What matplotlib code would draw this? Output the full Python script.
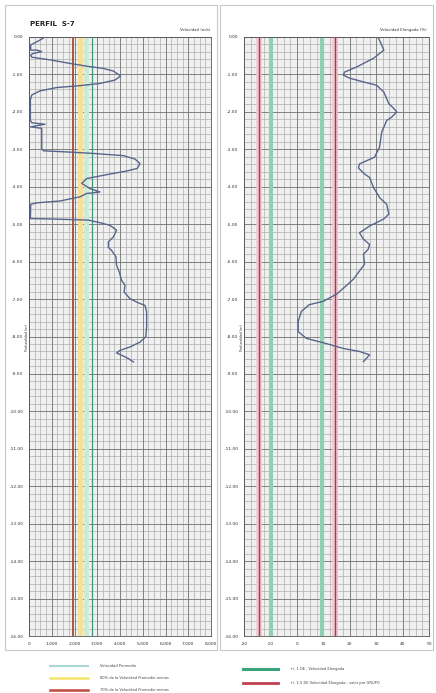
import matplotlib
matplotlib.use("Agg")
import matplotlib.pyplot as plt
from matplotlib.patches import Rectangle
from matplotlib.lines import Line2D
import numpy as np

# ---------------- data ----------------
title = "PERFIL  S-7"
left_xlabel_top = "Velocidad (m/s)"
right_xlabel_top = "Velocidad Elongada (%)"
ylabel = "Profundidad (m)"

vel_depth = [0.03, 0.13, 0.21, 0.35, 0.35, 0.39, 0.44, 0.48, 0.54, 0.61, 0.69, 0.78, 0.84, 0.91,
             1.04, 1.15, 1.24, 1.30, 1.35, 1.44, 1.55, 1.68, 2.22, 2.29, 2.33, 2.37, 2.40, 2.44,
             2.98, 3.04, 3.07, 3.11, 3.17, 3.26, 3.38, 3.51, 3.58, 3.66, 3.78, 3.91, 4.05, 4.14,
             4.18, 4.27, 4.38, 4.43, 4.47, 4.85, 4.86, 4.89, 4.96, 5.03, 5.16, 5.34, 5.47, 5.62,
             5.70, 5.87, 6.10, 6.28, 6.50, 6.63, 6.81, 6.99, 7.10, 7.17, 7.34, 7.75, 8.01, 8.15,
             8.28, 8.37, 8.44, 8.50, 8.59, 8.68]
vel_values = [630, 340, 75, 75, 340, 560, 190, 75, 120, 920, 1660, 2535, 3270, 3710,
              4030, 3780, 3120, 2240, 1220, 480, 120, 60, 60, 120, 700, 340, 75, 560,
              560, 630, 1660, 2830, 4150, 4660, 4880, 4760, 4290, 3560, 2535, 2320, 2680, 3120,
              2535, 2240, 1360, 340, 75, 60, 920, 2610, 3120, 3560, 3850, 3710, 3490, 3490,
              3630, 3820, 3850, 3970, 4070, 4220, 4180, 4440, 4800, 5100, 5170, 5170, 5130, 4880,
              4440, 4000, 3850, 4070, 4370, 4590]

elong_depth = [0.03, 0.20, 0.35, 0.57, 0.80, 0.94, 1.02, 1.10, 1.20, 1.29, 1.47, 1.78, 1.91, 2.00,
               2.14, 2.23, 2.54, 2.94, 3.21, 3.39, 3.50, 3.66, 3.75, 4.02, 4.29, 4.47, 4.73, 4.86,
               5.05, 5.23, 5.40, 5.54, 5.67, 5.80, 6.07, 6.25, 6.47, 6.71, 6.87, 7.06, 7.15, 7.33,
               7.60, 7.87, 8.05, 8.19, 8.32, 8.40, 8.49, 8.67]
elong_values = [30.9, 32.0, 32.9, 29.0, 22.6, 18.0, 17.6, 20.0, 25.2, 30.2, 32.9, 34.8, 36.7, 37.8,
                35.9, 34.0, 32.1, 31.3, 29.4, 23.7, 23.3, 25.6, 27.5, 29.0, 31.3, 34.0, 34.8, 32.9,
                27.5, 23.7, 25.2, 27.5, 27.0, 25.2, 25.6, 23.7, 21.4, 17.6, 15.0, 10.0, 4.7, 1.7,
                0.5, 0.5, 3.6, 11.2, 17.6, 23.7, 27.5, 25.2]

vel_promedio = 2780
vel_band = 2500
vel_80 = 2220
vel_70 = 1950
de_1 = 9.6
de_15 = 14.3

depth_ticks = list(range(0, -17, -1))
vel_ticks = [0, 1000, 2000, 3000, 4000, 5000, 6000, 7000, 8000]
vel_ticklabels = ["0", "1.000", "2.000", "3.000", "4.000", "5.000", "6.000", "7.000", "8.000"]
elong_ticks = [-20, -10, 0, 10, 20, 30, 40, 50]

legend_left = ["Velocidad Promedio",
               "80% de la Velocidad Promedio menos",
               "70% de la Velocidad Promedio menos"]
legend_right = ["+/- 1 DE - Velocidad Elongada",
                "+/- 1.5 DE Velocidad Elongada - valor por GRUPO"]

# ---------------- figure ----------------
W, H = 436, 693
fig = plt.figure(figsize=(W / 100, H / 100), dpi=100)
fig.patch.set_facecolor("white")

def fx(px):
    return px / W

def fy(py):
    return 1 - py / H

# panel frames
for x0, x1 in [(5, 217), (220, 433)]:
    fig.patches.append(Rectangle((fx(x0), fy(650)), fx(x1 - x0), (650 - 5) / H,
                                 transform=fig.transFigure, fill=False,
                                 edgecolor="#c8c8c8", linewidth=0.8))

axL = fig.add_axes([fx(29), fy(636), fx(211 - 29), (636 - 37) / H])
axR = fig.add_axes([fx(244), fy(636), fx(429 - 244), (636 - 37) / H])

curve_color = "#56658a"
tick_fs = 3.2

def style_axes(ax, xmin, xmax, xminor, xticks, xlabels):
    ax.set_xlim(xmin, xmax)
    ax.set_ylim(-16, 0)
    ax.set_facecolor("#f0f0f0")
    for xv in np.arange(xmin, xmax + 1e-9, xminor):
        ax.axvline(xv, color="#a8a8a8", lw=0.45, zorder=1)
    for yv in np.arange(-16, 0.001, 0.2):
        ax.axhline(yv, color="#a8a8a8", lw=0.45, zorder=1)
    for xv in xticks:
        ax.axvline(xv, color="#777777", lw=0.6, zorder=1)
    for yv in depth_ticks:
        ax.axhline(yv, color="#777777", lw=0.6, zorder=1)
    ax.set_xticks(xticks)
    ax.set_xticklabels(xlabels, fontsize=tick_fs, color="#333333")
    ax.set_yticks(depth_ticks)
    ax.set_yticklabels([f"{v:.2f}" for v in depth_ticks], fontsize=tick_fs, color="#333333")
    ax.tick_params(length=0, pad=4)
    for s in ax.spines.values():
        s.set_color("#555555")
        s.set_linewidth(0.6)

style_axes(axL, 0, 8000, 250, vel_ticks, vel_ticklabels)
style_axes(axR, -20, 50, 2.5, elong_ticks, [str(v) for v in elong_ticks])

# reference lines - left
axL.axvline(vel_band, color="#cfe9d8", lw=3.5, zorder=2)
axL.axvline(vel_80, color="#f6df9a", lw=3.5, zorder=2)
axL.axvline(vel_70, color="#a9553e", lw=1.4, zorder=3)
axL.axvline(vel_promedio, color="#3c9a7c", lw=0.9, zorder=3)

# reference lines - right
for s in (-1, 1):
    axR.axvline(s * de_15, color="#f2c8d0", lw=4, zorder=2)
    axR.axvline(s * de_15, color="#a8384c", lw=1.0, zorder=3)
    axR.axvline(s * de_1, color="#8fd0b2", lw=3, zorder=2)

# curves
axL.plot(vel_values, [-d for d in vel_depth], color=curve_color, lw=1.0, zorder=5)
axR.plot(elong_values, [-d for d in elong_depth], color=curve_color, lw=1.0, zorder=5)

# texts
fig.text(fx(30), fy(24), title, fontsize=5, fontweight="bold", color="#222222", va="center")
fig.text(fx(210), fy(30), left_xlabel_top, fontsize=2.8, color="#333333", ha="right", va="center")
fig.text(fx(427), fy(30), right_xlabel_top, fontsize=2.8, color="#333333", ha="right", va="center")
fig.text(fx(27), fy(338), ylabel, fontsize=2.4, rotation=90, color="#333333", ha="center", va="center")
fig.text(fx(242), fy(338), ylabel, fontsize=2.4, rotation=90, color="#333333", ha="center", va="center")

# legends
leg_left_colors = [("#a9d8d8", 1.5), ("#f7e46a", 1.8), ("#c04a3c", 1.8)]
leg_left_y = [666, 678, 690]
for (c, lw), yy, lab in zip(leg_left_colors, leg_left_y, legend_left):
    fig.lines.append(Line2D([fx(50), fx(88)], [fy(yy), fy(yy)], transform=fig.transFigure,
                            color=c, lw=lw))
    fig.text(fx(100), fy(yy), lab, fontsize=2.6, color="#444444", va="center")

leg_right_colors = [("#3aa57a", 2.2), ("#c04050", 2.0)]
leg_right_y = [669, 683]
for (c, lw), yy, lab in zip(leg_right_colors, leg_right_y, legend_right):
    fig.lines.append(Line2D([fx(243), fx(278)], [fy(yy), fy(yy)], transform=fig.transFigure,
                            color=c, lw=lw))
    fig.text(fx(290), fy(yy), lab, fontsize=2.6, color="#444444", va="center")

fig.savefig("out.png", dpi=100, facecolor="white")
